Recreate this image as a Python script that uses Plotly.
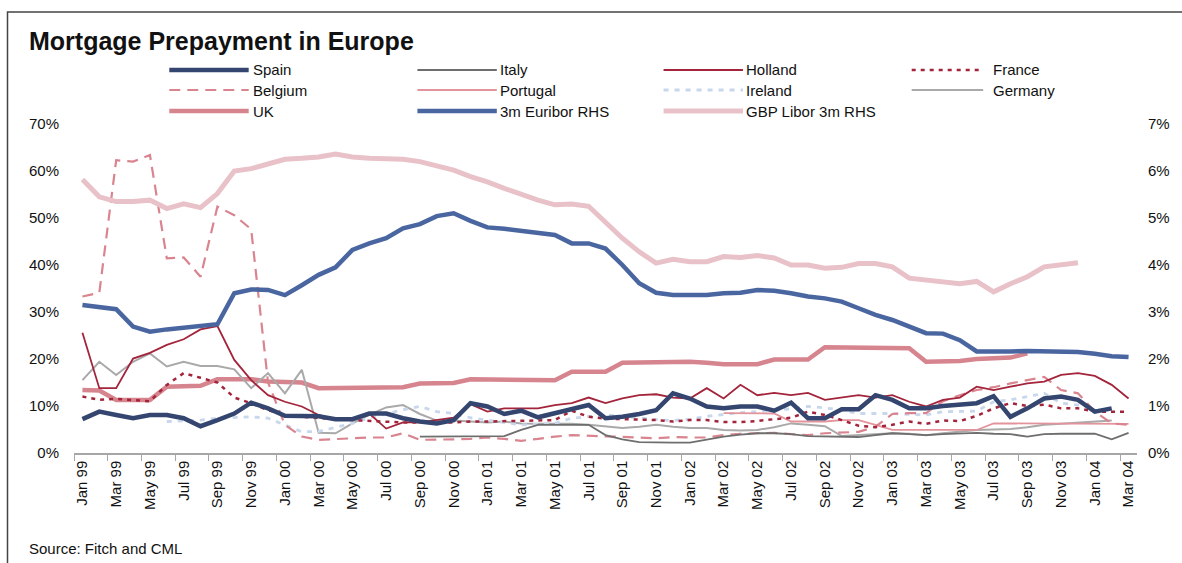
import plotly.graph_objects as go

# month labels Jan 99 .. Mar 04
month_names = ["Jan", "Feb", "Mar", "Apr", "May", "Jun", "Jul", "Aug", "Sep", "Oct", "Nov", "Dec"]
months = [f"{m} {y % 100:02d}" for y in range(1999, 2005) for m in month_names][:63]

# prepayment rates, % (left axis)
spain = [7.2, 8.8, 8.1, 7.4, 8.1, 8.1, 7.4, 5.7, 7.0, 8.4,
         10.7, 9.5, 7.9, 7.8, 7.8, 7.2, 7.2, 8.4, 8.4, 7.4,
         6.7, 6.3, 7.0, 10.6, 9.9, 8.3, 9.0, 7.6, 8.4, 9.3,
         10.2, 7.4, 7.7, 8.3, 9.1, 12.7, 11.6, 9.9, 9.5, 9.9,
         9.9, 9.0, 10.7, 7.4, 7.4, 9.3, 9.3, 12.3, 11.3, 9.5,
         9.5, 10.0, 10.2, 10.6, 12.1, 7.7, 9.5, 11.6, 12.0, 11.3,
         8.8, 9.5, None]
italy = [None] * 20 + [3.5, 3.5, 3.5, 3.5, 3.5, 3.6, 4.9, 6.0, 6.0, 6.0,
                       6.0, 3.8, 2.9, 2.3, 2.2, 2.2, 2.2, 2.8, 3.5, 3.9,
                       4.2, 4.2, 4.0, 3.6, 3.5, 3.4, 3.4, 3.8, 4.2, 4.0,
                       3.8, 4.0, 4.1, 4.3, 4.1, 4.0, 3.5, 4.0, 4.1, 4.1,
                       4.1, 2.9, 4.3]
holland = [25.6, 13.8, 13.8, 20.1, 21.3, 23.0, 24.2, 26.3, 27.0, 19.8,
           15.5, 12.3, 10.9, 9.9, 8.1, 7.0, 7.0, 8.4, 5.2, 6.5,
           6.5, 7.0, 7.5, 10.4, 8.8, 9.5, 9.5, 9.5, 10.2, 10.6,
           11.8, 10.6, 11.6, 12.3, 12.5, 11.8, 11.6, 13.8, 11.6, 14.5,
           12.3, 12.8, 12.3, 12.8, 11.3, 11.8, 12.3, 11.8, 12.3, 10.9,
           9.9, 11.3, 11.8, 14.1, 13.4, 14.1, 14.8, 15.2, 16.6, 17.0,
           16.4, 14.5, 11.6]
france = [12.0, 11.3, 11.5, 11.3, 11.0, 14.5, 17.0, 16.0, 15.0, 11.8,
          10.6, 9.1, 8.1, 7.7, 7.4, 7.2, 7.0, 6.8, 6.7, 6.5,
          6.5, 6.4, 6.5, 6.7, 6.7, 6.8, 6.8, 6.9, 7.0, 9.0,
          7.7, 7.3, 7.2, 7.2, 7.0, 6.7, 7.0, 7.0, 6.6, 6.6,
          6.8, 7.2, 7.5, 8.8, 8.1, 7.0, 5.8, 5.5, 6.0, 6.7,
          6.2, 6.9, 6.8, 7.9, 9.5, 10.6, 10.0, 10.3, 9.5, 9.5,
          8.8, 8.8, 8.8]
belgium = [33.3, 34.1, 62.3, 62.0, 63.4, 41.4, 41.6, 37.5, 52.4, 50.6,
           47.6, 15.0, 6.0, 3.5, 2.8, 3.0, 3.2, 3.3, 3.3, 4.2,
           2.8, 2.8, 2.9, 3.0, 3.3, 3.0, 2.6, 3.0, 3.5, 3.8,
           3.7, 3.6, 3.4, 3.3, 3.1, 3.4, 3.3, 3.3, 3.8, 4.1,
           4.2, 4.3, 4.0, 3.8, 4.2, 4.3, 4.5, 5.6, 8.3, 8.5,
           8.5, 11.0, 12.3, 13.4, 14.0, 14.8, 15.5, 16.2, 13.4, 12.7,
           8.8, 6.3, 6.0]
portugal = [None] * 38 + [8.5, 8.5, 8.5, 8.4, 6.7, 6.7, 6.7, 7.0, 7.0, 6.0,
                          4.9, 4.9, 4.9, 4.9, 4.9, 4.9, 6.3, 6.3, 6.3, 6.3,
                          6.2, 6.2, 6.2, 6.2, 6.2]
ireland = [None] * 5 + [6.7, 6.8, 7.0, 7.4, 7.6,
                        7.7, 7.4, 6.0, 4.5, 4.6, 5.5, 6.3, 7.5, 8.4, 9.2,
                        9.9, 8.8, 8.4, 7.5, 7.0, 6.5, 6.0, 6.1, 6.3, 7.4,
                        7.8, 8.1, 7.8, 7.4, 7.1, 6.9, 7.2, 7.8, 8.2, 8.6,
                        8.8, 9.1, 9.4, 9.9, 9.6, 9.1, 8.4, 8.4, 8.4, 8.2,
                        8.1, 8.8, 8.8, 8.9, 10.9, 11.3, 12.0, 12.7, 10.6, 10.2,
                        9.5] + [None] * 2
germany = [15.5, 19.4, 16.6, 19.4, 21.2, 18.4, 19.4, 18.5, 18.5, 17.8,
           13.8, 17.0, 12.7, 17.7, 4.3, 4.2, 6.3, 8.1, 9.7, 10.2,
           8.3, 6.9, 6.9, 6.7, 6.5, 6.7, 6.3, 6.2, 6.2, 6.2,
           6.0, 5.6, 5.3, 5.6, 6.0, 5.6, 5.3, 5.3, 4.9, 4.8,
           4.9, 5.5, 6.3, 6.0, 5.7, 3.6, 3.8, 4.0, 4.2, 4.1,
           3.8, 4.2, 4.6, 4.9, 5.0, 5.1, 5.5, 6.0, 6.2, 6.4,
           6.7, 6.9, None]
uk = [13.4, 13.3, 11.3, 11.3, 11.3, 14.1, 14.3, 14.3, 15.7, 15.7,
      15.7, 15.2, 15.0, 15.0, 13.8, 13.8, 13.8, 13.8, 13.8, 14.0,
      14.8, 14.8, 14.9, 15.7, 15.7, 15.7, 15.6, 15.5, 15.5, 17.3,
      17.3, 17.3, 19.2, 19.3, 19.3, 19.4, 19.4, 19.2, 18.9, 18.9,
      18.9, 19.9, 19.9, 19.9, 22.5, 22.5, 22.4, 22.3, 22.3, 22.3,
      19.4, 19.4, 19.6, 20.0, 20.2, 20.3, 21.2] + [None] * 6

# interest rates, % (right axis)
euribor_3m = [3.15, 3.10, 3.06, 2.69, 2.58, 2.63, 2.67, 2.70, 2.74, 3.40,
              3.48, 3.47, 3.36, 3.57, 3.79, 3.95, 4.32, 4.46, 4.57, 4.78,
              4.87, 5.04, 5.10, 4.94, 4.80, 4.77, 4.72, 4.69, 4.64, 4.46,
              4.46, 4.35, 4.00, 3.61, 3.41, 3.36, 3.35, 3.36, 3.40, 3.41,
              3.47, 3.45, 3.40, 3.33, 3.29, 3.22, 3.08, 2.94, 2.83, 2.69,
              2.55, 2.54, 2.40, 2.16, 2.15, 2.16, 2.17, 2.17, 2.17, 2.15,
              2.11, 2.06, 2.04]
gbp_libor_3m = [5.82, 5.45, 5.35, 5.35, 5.38, 5.20, 5.30, 5.22, 5.52, 6.00,
                6.05, 6.15, 6.25, 6.27, 6.30, 6.36, 6.30, 6.27, 6.27, 6.25,
                6.20, 6.12, 6.02, 5.88, 5.77, 5.63, 5.50, 5.38, 5.28, 5.30,
                5.25, 4.92, 4.57, 4.28, 4.04, 4.12, 4.07, 4.07, 4.18, 4.16,
                4.20, 4.15, 4.00, 4.00, 3.93, 3.95, 4.03, 4.03, 3.96, 3.72,
                3.68, 3.62, 3.60, 3.65, 3.43, 3.60, 3.75, 3.96, 4.00, 4.05,
                None, None, None]

# plot box in pixels (left, right, top, bottom)
L, R, T, B = 74, 1145, 124, 453
W, H = 1182, 563


def px(x):
    return (x - L) / (R - L)


def py(y):
    return (B - y) / (B - T)


# name, data, axis, colour, width, dash
series = [
    ("Spain", spain, "y", "#34466f", 4.5, "solid"),
    ("Italy", italy, "y", "#6e6e6e", 1.8, "solid"),
    ("Holland", holland, "y", "#a3243b", 1.8, "solid"),
    ("France", france, "y", "#a3243b", 2.5, "4px,5px"),
    ("Belgium", belgium, "y", "#d9848f", 2.2, "11px,7px"),
    ("Portugal", portugal, "y", "#e3939c", 1.8, "solid"),
    ("Ireland", ireland, "y", "#c9d7ec", 2.8, "5px,6px"),
    ("Germany", germany, "y", "#a9a9a9", 2.0, "solid"),
    ("UK", uk, "y", "#d6848e", 4.5, "solid"),
    ("3m Euribor RHS", euribor_3m, "y2", "#4a66a0", 4.5, "solid"),
    ("GBP Libor 3m RHS", gbp_libor_3m, "y2", "#e8c2c8", 5.0, "solid"),
]

draw_order = ["GBP Libor 3m RHS", "3m Euribor RHS", "UK", "Germany", "Ireland",
              "Portugal", "Belgium", "Italy", "France", "Holland", "Spain"]

fig = go.Figure()
lookup = {s[0]: s for s in series}
for name in draw_order:
    _, vals, ax, col, w, dash = lookup[name]
    fig.add_trace(go.Scatter(x=months, y=vals, name=name, yaxis=ax, mode="lines",
                             line=dict(color=col, width=w, dash=dash),
                             connectgaps=False, showlegend=False))

# legend drawn by hand: 4 columns, 3 rows
col_sym = [(170, 250), (420, 500), (668, 748), (918, 990)]
col_txt = [252, 501, 749, 998]
row_y = [70, 90, 111]
shapes = []
annotations = []
for k, (name, _, _, col, w, dash) in enumerate(series):
    r, c = divmod(k, 4)
    x0, x1 = col_sym[c]
    shapes.append(dict(type="line", xref="paper", yref="paper",
                       x0=px(x0), x1=px(x1), y0=py(row_y[r]), y1=py(row_y[r]),
                       line=dict(color=col, width=w, dash=dash)))
    annotations.append(dict(text=name, xref="paper", yref="paper",
                            x=px(col_txt[c]), y=py(row_y[r]), xanchor="left",
                            yanchor="middle", showarrow=False,
                            font=dict(size=15, color="#111111")))

annotations.append(dict(text="<b>Mortgage Prepayment in Europe</b>", xref="paper", yref="paper",
                        x=px(27), y=py(41), xanchor="left", yanchor="middle", showarrow=False,
                        font=dict(size=25, color="#111111")))
annotations.append(dict(text="Source: Fitch and CML", xref="paper", yref="paper",
                        x=px(27), y=py(548), xanchor="left", yanchor="middle", showarrow=False,
                        font=dict(size=15, color="#111111")))

# outer frame
shapes.append(dict(type="rect", xref="paper", yref="paper",
                   x0=px(7), x1=px(1195), y0=py(12), y1=py(580),
                   line=dict(color="#444444", width=1.5), layer="below"))

fig.update_layout(
    width=W, height=H,
    margin=dict(l=L, r=W - R, t=T, b=H - B),
    paper_bgcolor="white", plot_bgcolor="white",
    font=dict(family="Liberation Sans, Arial, sans-serif", color="#111111"),
    shapes=shapes, annotations=annotations,
    xaxis=dict(type="category", range=[-0.5, 62.5], tickmode="linear", tick0=0, dtick=2,
               tickangle=-90, tickson="boundaries", ticks="outside", ticklen=6,
               tickcolor="#a6a6a6", showline=True, linecolor="#a6a6a6", linewidth=1.5,
               showgrid=False, tickfont=dict(size=15)),
    yaxis=dict(range=[0, 70], dtick=10, ticksuffix="%", showgrid=False, zeroline=False,
               showline=False, ticks="", ticklabelstandoff=14, tickfont=dict(size=15)),
    yaxis2=dict(range=[0, 7], dtick=1, ticksuffix="%", overlaying="y", side="right",
                showgrid=False, zeroline=False, showline=False, ticks="",
                ticklabelstandoff=10, tickfont=dict(size=15)),
    showlegend=False,
)

# page has no body margin so the chart sits at the window's top-left corner
fig.write_html("out.html", config={"displayModeBar": False},
               post_script="document.body.style.margin='0px';")
